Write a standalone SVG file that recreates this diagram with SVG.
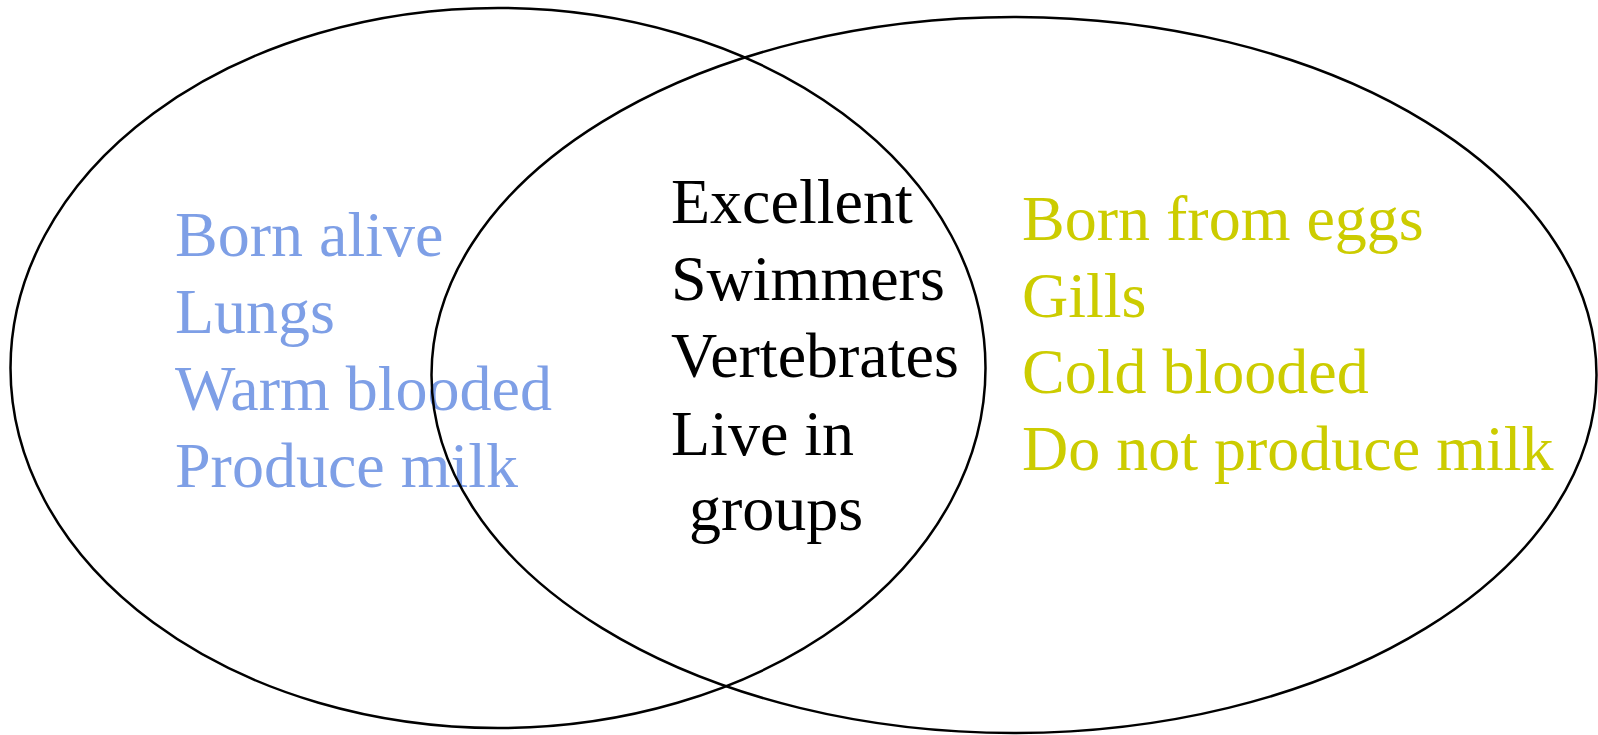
<svg xmlns="http://www.w3.org/2000/svg" width="1598" height="735" viewBox="0 0 1598 735">
<style>
.t{font-family:"Liberation Serif","Times New Roman",serif;font-size:64px}
.blue{fill:#7E9FE6}
.yel{fill:#CCCC00}
.blk{fill:#000}
.ring{fill:none;stroke:#000;stroke-width:2.5}
</style>
<rect width="1598" height="735" fill="#fff"/>
<g id="left-text" class="t blue">
<text x="175" y="256">Born alive</text>
<text x="175" y="333">Lungs</text>
<text x="175" y="410">Warm blooded</text>
<text x="175" y="487">Produce milk</text>
</g>
<g id="center-text" class="t blk">
<text x="671" y="223">Excellent</text>
<text x="671" y="300">Swimmers</text>
<text x="671" y="377">Vertebrates</text>
<text x="671" y="455">Live in</text>
<text x="689" y="530">groups</text>
</g>
<g id="right-text" class="t yel">
<text x="1022" y="240">Born from eggs</text>
<text x="1022" y="317">Gills</text>
<text x="1022" y="393">Cold blooded</text>
<text x="1022" y="470">Do not produce milk</text>
</g>
<g id="mammals">
<ellipse class="ring" cx="498" cy="368" rx="487.5" ry="360"/>
</g>
<g id="fish">
<ellipse class="ring" cx="1014" cy="375" rx="582.5" ry="358"/>
</g>
</svg>
